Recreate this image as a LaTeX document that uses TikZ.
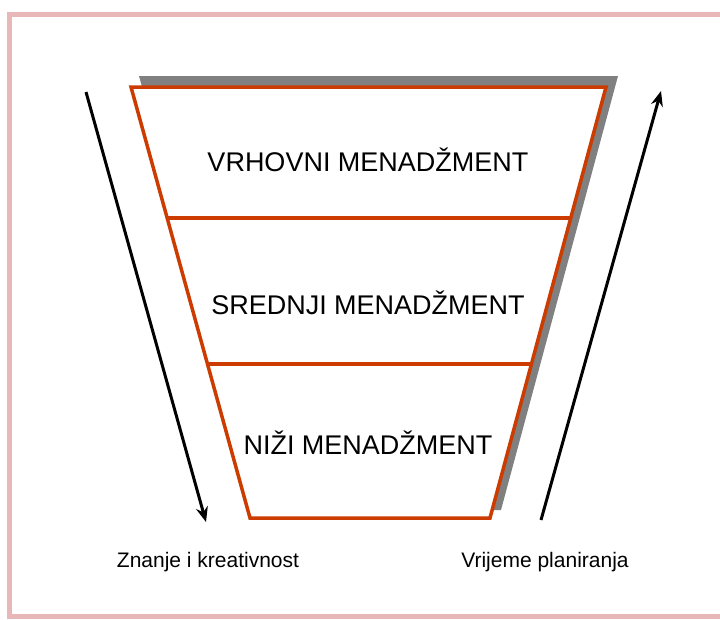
\documentclass[tikz,border=0pt]{standalone}
\usepackage{fontspec}
\setmainfont{Liberation Sans}
\usetikzlibrary{calc,arrows.meta}
\definecolor{frame}{RGB}{232,183,183}
\definecolor{rim}{RGB}{204,60,0}
\definecolor{backgray}{RGB}{128,128,128}
\begin{document}
\begin{tikzpicture}
            [x=1pt,y=-1pt,
             level/.style ={font=\fontsize{27}{31}\selectfont},
             note/.style ={font=\fontsize{21}{25}\selectfont},
             arr/.style ={line width=3pt,-{Stealth[length=15pt,width=12pt]}}]
            \useasboundingbox (0,0) rectangle (720,619);
            \draw[frame,line width=5pt] (9.5,14.5) rectangle (740,616);
            % funnel corners
            \coordinate (tl) at (131,87);
            \coordinate (tr) at (606,87);
            \coordinate (br) at (490,518);
            \coordinate (bl) at (250,518);
            \fill[backgray] ([shift={(8,-11)}]tl) -- ([shift={(12,-11)}]tr) -- ([shift={(11,-8)}]br) -- ([shift={(8,-8)}]bl) -- cycle;
            \draw[rim,fill=white,line width=3.5pt,line join=miter] (tl) -- (tr) -- (br) -- (bl) -- cycle;
            \draw[rim,line width=3.5pt] ($(tl)!0.304!(bl)$) -- ($(tr)!0.304!(br)$);
            \draw[rim,line width=3.5pt] ($(tl)!0.643!(bl)$) -- ($(tr)!0.643!(br)$);
            \node[level] (top) at (368,160) {VRHOVNI MENADŽMENT};
            \node[level] (mid) at (368,303) {SREDNJI MENADŽMENT};
            \node[level] (low) at (368,443) {NIŽI MENADŽMENT};
            % arrows at the sides
            \coordinate (a1) at (86,92);
            \coordinate (a2) at (206,522);
            \coordinate (b1) at (541,520);
            \coordinate (b2) at (661,91);
            \draw[arr] (a1) to (a2);
            \draw[arr] (b1) to (b2);
            \node[note] (know) at (208,562) {Znanje i kreativnost};
            \node[note] (plan) at (545,562) {Vrijeme planiranja};
        \end{tikzpicture}
\end{document}
